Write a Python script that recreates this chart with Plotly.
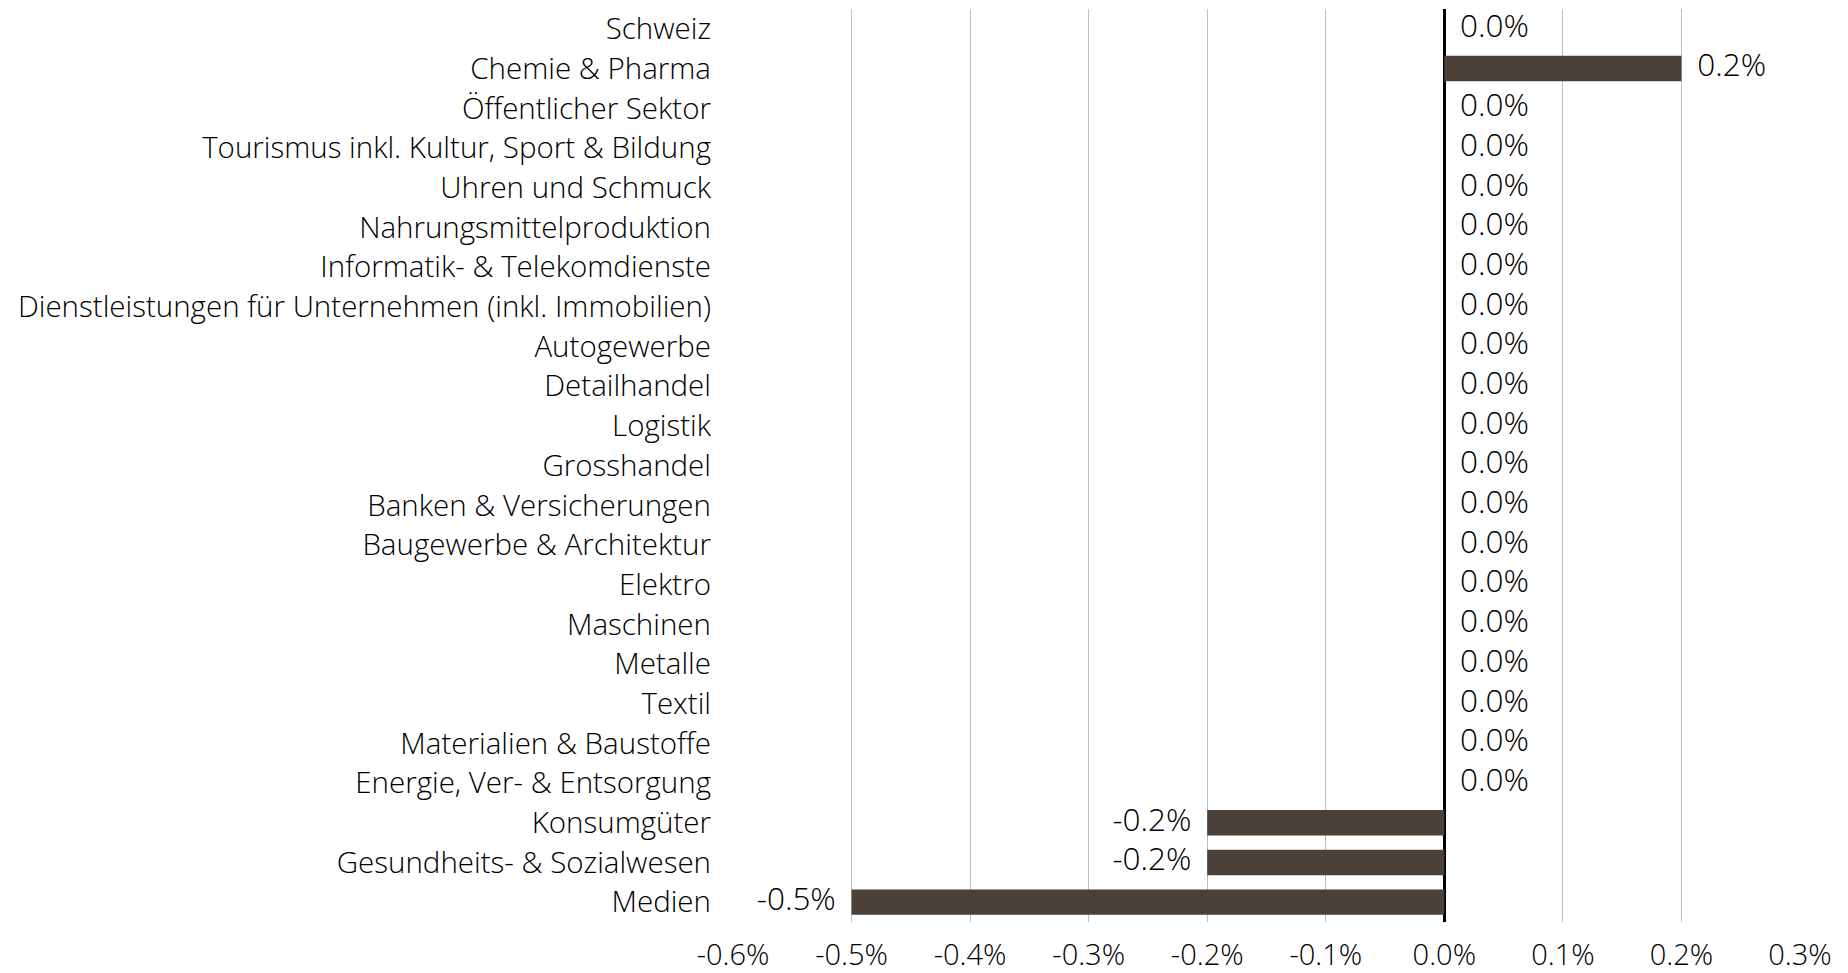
import plotly.graph_objects as go

categories = [
    "Schweiz", "Chemie & Pharma", "Öffentlicher Sektor",
    "Tourismus inkl. Kultur, Sport & Bildung", "Uhren und Schmuck",
    "Nahrungsmittelproduktion", "Informatik- & Telekomdienste",
    "Dienstleistungen für Unternehmen (inkl. Immobilien)", "Autogewerbe",
    "Detailhandel", "Logistik", "Grosshandel", "Banken & Versicherungen",
    "Baugewerbe & Architektur", "Elektro", "Maschinen", "Metalle", "Textil",
    "Materialien & Baustoffe", "Energie, Ver- & Entsorgung", "Konsumgüter",
    "Gesundheits- & Sozialwesen", "Medien",
]
values = [0.0, 0.2, 0.0, 0.0, 0.0, 0.0, 0.0, 0.0, 0.0, 0.0, 0.0, 0.0, 0.0,
          0.0, 0.0, 0.0, 0.0, 0.0, 0.0, 0.0, -0.2, -0.2, -0.5]
tick_vals = [-0.6, -0.5, -0.4, -0.3, -0.2, -0.1, 0.0, 0.1, 0.2, 0.3]
tick_text = ["-0.6%", "-0.5%", "-0.4%", "-0.3%", "-0.2%", "-0.1%", "0.0%",
             "0.1%", "0.2%", "0.3%"]

FONT = "Open Sans"
BAR = "#4B4139"
CAT_SIZE = 29.5
NUM_SIZE = 31.5
TICK_SIZE = 29

labels = [f"{v:.1f}%" for v in values]
pos_text = [("\u2002" + t) if v >= 0 else "" for v, t in zip(values, labels)]
neg_text = [(t + "\u2002") if v < 0 else "" for v, t in zip(values, labels)]

fig = go.Figure()
fig.add_trace(go.Bar(
    x=values, y=categories, orientation="h", marker_color=BAR,
    marker_line_width=0, width=0.64, hoverinfo="skip",
))
fig.add_trace(go.Scatter(
    x=values, y=categories, mode="text", text=pos_text,
    textposition="middle right", cliponaxis=False,
    textfont=dict(family=FONT, size=NUM_SIZE, color="#000000", weight=300),
    hoverinfo="skip",
))
fig.add_trace(go.Scatter(
    x=values, y=categories, mode="text", text=neg_text,
    textposition="middle left", cliponaxis=False,
    textfont=dict(family=FONT, size=NUM_SIZE, color="#000000", weight=300),
    hoverinfo="skip",
))

n = len(categories)
fig.update_layout(
    width=1848, height=973,
    margin=dict(l=733, r=48, t=9, b=51, autoexpand=False),
    paper_bgcolor="white", plot_bgcolor="white",
    showlegend=False,
    font=dict(family=FONT, size=CAT_SIZE, color="#000000", weight=300),
    xaxis=dict(
        range=[-0.6, 0.3], tickvals=tick_vals, ticktext=tick_text,
        showgrid=True, gridcolor="#BFBFBF", gridwidth=1,
        zeroline=True, zerolinecolor="#000000", zerolinewidth=2.5,
        showline=False, ticks="", ticklabelstandoff=13, automargin=False,
        tickfont=dict(family=FONT, size=TICK_SIZE, weight=300),
    ),
    yaxis=dict(
        categoryorder="array", categoryarray=categories[::-1],
        range=[-0.5, n - 0.5], showgrid=False, zeroline=False,
        showline=False, ticks="", ticklabelstandoff=21, automargin=False,
        tickfont=dict(family=FONT, size=CAT_SIZE, weight=300),
    ),
)

fig.write_html(
    "out.html",
    config={"displayModeBar": False},
    post_script="document.body.style.margin='0';",
)
